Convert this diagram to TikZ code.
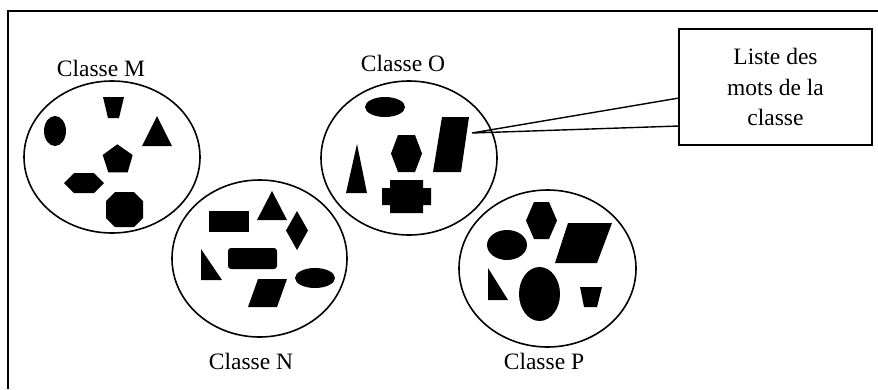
\documentclass[tikz,border=0pt]{standalone}
\usepackage{fontspec}
\setmainfont{Liberation Serif}
\usetikzlibrary{shapes.geometric}

\tikzset{
  classe/.style={draw, ellipse, line width=1.6pt, inner sep=0pt},
  titre/.style={anchor=base, inner sep=0pt},
  forme/.style={fill=black},
  bulle/.style={draw, fill=white, line width=1.6pt, align=center, inner sep=0pt},
}

\begin{document}
\begin{tikzpicture}[x=1pt, y=-1pt, font=\fontsize{23.5}{30.5}\selectfont]
\useasboundingbox (0,0) rectangle (878,389);

% cadre
\draw [line width=2pt] (8,389) -- (8,11) -- (878,11);

% les quatre classes
\node [classe, minimum width=176, minimum height=152] (M) at (112,157) {};
\node [classe, minimum width=175, minimum height=157] (N) at (259.5,258.5) {};
\node [classe, minimum width=176, minimum height=154] (O) at (409,158) {};
\node [classe, minimum width=177, minimum height=157] (P) at (547.5,268.5) {};

\node [titre] (lblM) at (101,76) {Classe M};
\node [titre] (lblN) at (251,369) {Classe N};
\node [titre] (lblO) at (403,71) {Classe O};
\node [titre] (lblP) at (544,369) {Classe P};

% mots de la classe M
\fill [forme] (55,131) ellipse [x radius=11, y radius=15];
\fill [forme] (103,97) -- (124,97) -- (119,118) -- (108,118) -- cycle;
\fill [forme] (157,116) -- (172,146) -- (142,146) -- cycle;
\fill [forme] (117.3,144.3) -- (132.7,155) -- (127.7,172.3) -- (108.3,172.3) -- (102.7,155) -- cycle;
\fill [forme] (64,183) -- (74,173) -- (94,173) -- (104,183) -- (94,193) -- (74,193) -- cycle;
\fill [forme] (115,192) -- (134,192) -- (143,201) -- (143,218) -- (134,227) -- (115,227) -- (106,218) -- (106,201) -- cycle;

% mots de la classe N
\fill [forme] (209,211) rectangle (249,232);
\fill [forme] (272,191) -- (287,220) -- (257,220) -- cycle;
\fill [forme] (297,211) -- (308,230.5) -- (297,250) -- (286,230.5) -- cycle;
\fill [forme] (201,249) -- (222,280) -- (201,280) -- cycle;
\fill [forme, rounded corners=3] (228,248) rectangle (277,269);
\fill [forme] (258,279) -- (287,279) -- (277,307) -- (248,307) -- cycle;
\fill [forme] (315,278) ellipse [x radius=20, y radius=10];

% mots de la classe O
\fill [forme] (385,107) ellipse [x radius=20, y radius=10];
\fill [forme] (442,117) -- (469,117) -- (461,172) -- (433,172) -- cycle;
\fill [forme] (398,135) -- (415,135) -- (422,153.5) -- (415,172) -- (398,172) -- (391,153.5) -- cycle;
\fill [forme] (357,144) -- (367,193) -- (346,193) -- cycle;
\fill [forme] (390,180) -- (423,180) -- (423,188) -- (431,188) -- (431,205) -- (423,205)
  -- (423,213) -- (390,213) -- (390,205) -- (382,205) -- (382,188) -- (390,188) -- cycle;

% mots de la classe P
\fill [forme] (534,202) -- (549,202) -- (557,220.5) -- (549,239) -- (534,239) -- (526,220.5) -- cycle;
\fill [forme] (507,245) ellipse [x radius=20, y radius=15];
\fill [forme] (568,223) -- (612,223) -- (597,263) -- (555,263) -- cycle;
\fill [forme] (488,268) -- (508,300) -- (488,300) -- cycle;
\fill [forme] (539.5,294) ellipse [x radius=20.5, y radius=27];
\fill [forme] (580,287) -- (602,287) -- (597,307) -- (584,307) -- cycle;

% bulle de legende
\coordinate (pointe) at (472,133);
\coordinate (ancreH) at (679,98);
\coordinate (ancreB) at (679,126);
\draw [line width=1.4pt] (ancreH) -- (pointe) -- (ancreB);
\node [bulle, minimum width=193, minimum height=116] (liste) at (775.5,87)
  {Liste des\\mots de la\\classe};

\end{tikzpicture}
\end{document}
